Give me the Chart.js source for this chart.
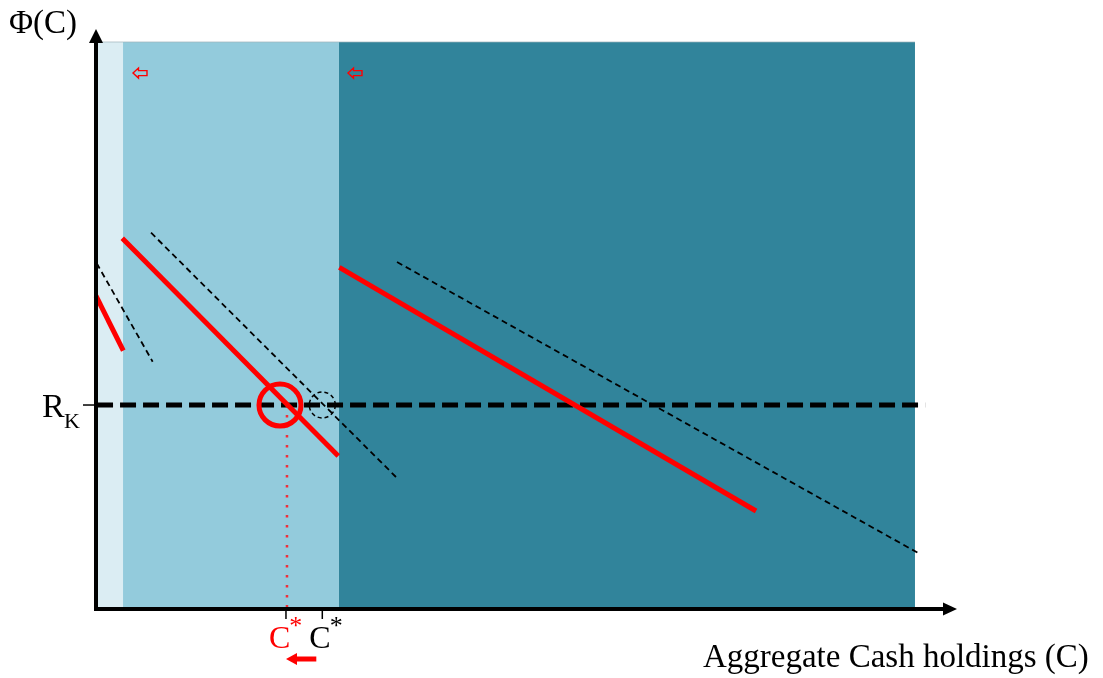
<!DOCTYPE html>
<html>
<head>
<meta charset="utf-8">
<script src="https://cdn.jsdelivr.net/npm/chart.js@4.4.1/dist/chart.umd.min.js"></script>
<style>
  html, body { margin: 0; padding: 0; background: #fff; }
  #wrap { width: 1103px; height: 678px; }
</style>
</head>
<body>
<div id="wrap"><canvas id="chart" width="1103" height="678"></canvas></div>
<script>
// shaded regimes along the C axis
const regionEdges = [0.23, 3.14, 28.22, 95.12];
const regionColors = ["#dbedf3", "#93cbdc", "#31849b"];
const regionTop = 97.76;

// required return R_K
const rkLevel = 35.17;
const rkSpan = [0.12, 96.3];

// red (shifted) Phi(C) segments
const redSeg1X = [0.0, 3.17];
const redSeg1Y = [53.97, 44.53];
const redSeg2X = [3.05, 28.14];
const redSeg2Y = [63.91, 26.38];
const redSeg3X = [28.26, 76.66];
const redSeg3Y = [58.91, 16.9];

// original Phi(C) segments (thin dashed)
const blackSeg1X = [0.08, 6.58];
const blackSeg1Y = [59.6, 42.64];
const blackSeg2X = [6.39, 34.84];
const blackSeg2Y = [64.88, 22.76];
const blackSeg3X = [34.96, 95.7];
const blackSeg3Y = [59.83, 9.48];

// equilibria: new (red) and old (black)
const cStarNew = 22.18;
const cStarOld = 26.4;
const redCircleX = 21.37;

// small hollow arrows at the top of the regimes
const shiftArrowX = [5.11, 30.08];
const shiftArrowY = 92.4;

const pts = (xs, ys) => xs.map((x, i) => ({ x, y: ys[i] }));

const datasets = [];

regionColors.forEach((c, i) => {
  datasets.push({
    data: pts([regionEdges[i], regionEdges[i + 1]], [regionTop, regionTop]),
    fill: "origin",
    backgroundColor: c,
    borderColor: "rgba(160,180,186,0.7)",
    borderWidth: 1,
    order: 10,
  });
});

datasets.push({
  data: pts(rkSpan, [rkLevel, rkLevel]),
  borderColor: "#000",
  borderWidth: 5,
  borderDash: [16, 7],
  order: 5,
});

[[blackSeg1X, blackSeg1Y], [blackSeg2X, blackSeg2Y], [blackSeg3X, blackSeg3Y]].forEach(([xs, ys]) => {
  datasets.push({
    data: pts(xs, ys),
    borderColor: "#000",
    borderWidth: 1.8,
    borderDash: [6, 4],
    order: 4,
  });
});

datasets.push({
  data: pts([cStarNew, cStarNew], [rkLevel, 0]),
  borderColor: "#f0303a",
  borderWidth: 2.5,
  borderDash: [2.5, 7.5],
  order: 3,
});

[[redSeg1X, redSeg1Y], [redSeg2X, redSeg2Y], [redSeg3X, redSeg3Y]].forEach(([xs, ys]) => {
  datasets.push({
    data: pts(xs, ys),
    borderColor: "#ff0000",
    borderWidth: 5,
    order: 2,
  });
});

datasets.push({
  data: [{ x: redCircleX, y: rkLevel }],
  showLine: false,
  pointRadius: 21,
  pointBorderWidth: 5,
  pointBorderColor: "#ff0000",
  pointBackgroundColor: "rgba(0,0,0,0)",
  order: 1,
});

const serif = '"Liberation Serif", "Times New Roman", serif';

const overlay = {
  id: "overlay",
  afterDraw(chart) {
    const { ctx } = chart;
    const { x, y } = chart.scales;
    const x0 = x.getPixelForValue(0);
    const y0 = y.getPixelForValue(0);
    const xTip = x.getPixelForValue(100);
    const yTip = y.getPixelForValue(100);
    ctx.save();

    // axes with arrowheads
    ctx.strokeStyle = "#000";
    ctx.fillStyle = "#000";
    ctx.lineWidth = 4;
    ctx.beginPath();
    ctx.moveTo(x0, y0 + 2);
    ctx.lineTo(x0, yTip + 13);
    ctx.moveTo(x0 - 2, y0);
    ctx.lineTo(xTip - 13, y0);
    ctx.stroke();
    ctx.beginPath();
    ctx.moveTo(x0, yTip);
    ctx.lineTo(x0 - 7, yTip + 14);
    ctx.lineTo(x0 + 7, yTip + 14);
    ctx.closePath();
    ctx.fill();
    ctx.beginPath();
    ctx.moveTo(xTip, y0);
    ctx.lineTo(xTip - 14, y0 - 6.5);
    ctx.lineTo(xTip - 14, y0 + 6.5);
    ctx.closePath();
    ctx.fill();

    // R_K tick
    const yRk = y.getPixelForValue(rkLevel);
    ctx.lineWidth = 1.5;
    ctx.beginPath();
    ctx.moveTo(x0 - 13, yRk);
    ctx.lineTo(x0, yRk);
    ctx.stroke();

    // C* ticks
    const xNew = x.getPixelForValue(cStarNew);
    const xOld = x.getPixelForValue(cStarOld);
    ctx.lineWidth = 1.5;
    ctx.beginPath();
    ctx.moveTo(xNew - 1, y0 + 2);
    ctx.lineTo(xNew - 1, y0 + 10);
    ctx.moveTo(xOld - 1, y0 + 2);
    ctx.lineTo(xOld - 1, y0 + 10);
    ctx.stroke();

    // dashed circle at old equilibrium
    ctx.setLineDash([4, 3]);
    ctx.lineWidth = 1.5;
    ctx.beginPath();
    ctx.arc(xOld - 1, yRk, 13, 0, Math.PI * 2);
    ctx.stroke();
    ctx.setLineDash([]);

    // hollow red shift arrows
    ctx.strokeStyle = "#ff0000";
    ctx.lineWidth = 1.4;
    shiftArrowX.forEach((v) => {
      const cx = x.getPixelForValue(v);
      const cy = y.getPixelForValue(shiftArrowY);
      ctx.beginPath();
      ctx.moveTo(cx - 7, cy);
      ctx.lineTo(cx - 1.5, cy - 5);
      ctx.lineTo(cx - 1.5, cy - 2.5);
      ctx.lineTo(cx + 7, cy - 2.5);
      ctx.lineTo(cx + 7, cy + 2.5);
      ctx.lineTo(cx - 1.5, cy + 2.5);
      ctx.lineTo(cx - 1.5, cy + 5);
      ctx.closePath();
      ctx.stroke();
    });

    // red arrow under the C* labels
    ctx.fillStyle = "#ff0000";
    const ay = y0 + 50;
    ctx.fillRect(xNew + 9, ay - 2.5, xOld - xNew - 16, 5);
    ctx.beginPath();
    ctx.moveTo(xNew - 1, ay);
    ctx.lineTo(xNew + 10, ay - 6);
    ctx.lineTo(xNew + 10, ay + 6);
    ctx.closePath();
    ctx.fill();

    // text
    ctx.textBaseline = "alphabetic";
    ctx.textAlign = "left";
    ctx.fillStyle = "#000";
    ctx.font = "33px " + serif;
    ctx.fillText("Φ(C)", 9, 33);
    ctx.fillText("Aggregate Cash holdings (C)", 703, 667);

    ctx.font = "34px " + serif;
    ctx.fillText("R", 42, 417);
    ctx.font = "22px " + serif;
    ctx.fillText("K", 64, 428);

    const drawCStar = (left, color) => {
      ctx.fillStyle = color;
      ctx.font = "32px " + serif;
      ctx.fillText("C", left, 648);
      const w = ctx.measureText("C").width;
      ctx.font = "26px " + serif;
      ctx.fillText("*", left + w - 1, 634);
    };
    drawCStar(xNew - 18, "#ff0000");
    drawCStar(xOld - 14, "#000");

    ctx.restore();
  },
};

new Chart(document.getElementById("chart"), {
  type: "line",
  data: { datasets },
  options: {
    responsive: false,
    animation: false,
    devicePixelRatio: 1,
    layout: { padding: { left: 96, right: 146, top: 29, bottom: 69 } },
    elements: { point: { radius: 0, hoverRadius: 0 }, line: { tension: 0 } },
    datasets: { line: { clip: false, fill: false } },
    scales: {
      x: { type: "linear", min: 0, max: 100, display: false },
      y: { type: "linear", min: 0, max: 100, display: false },
    },
    plugins: { legend: { display: false }, tooltip: { enabled: false } },
  },
  plugins: [overlay],
});
</script>
</body>
</html>
